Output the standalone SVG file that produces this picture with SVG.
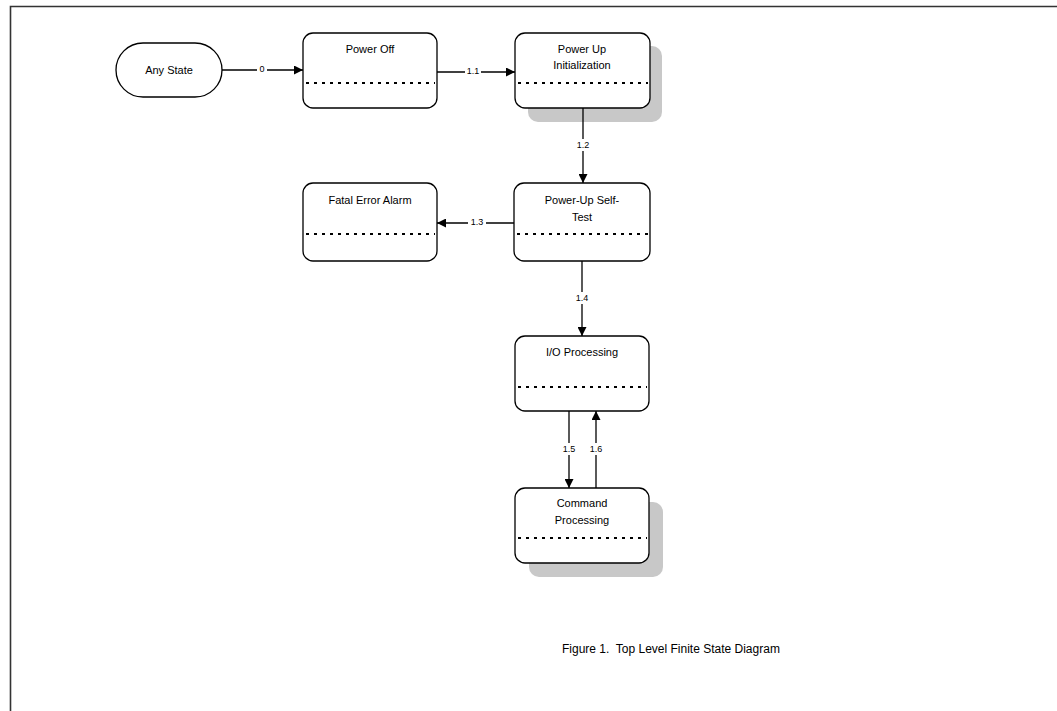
<svg xmlns="http://www.w3.org/2000/svg" width="1057" height="711" viewBox="0 0 1057 711">
<style>
.box{fill:#fff;stroke:#000;stroke-width:1.3}
.shadow{fill:#c8c8c8}
.dots{stroke:#000;stroke-width:2;stroke-dasharray:3 5}
.t{font-family:"Liberation Sans",Arial,sans-serif;font-size:11px;text-anchor:middle;fill:#000}
.lbl{font-family:"Liberation Sans",Arial,sans-serif;font-size:9px;text-anchor:middle;fill:#000}
.cap{font-family:"Liberation Sans",Arial,sans-serif;font-size:12px;fill:#000;white-space:pre}
.conn{stroke:#000;stroke-width:1.3;fill:none;marker-end:url(#arr)}
.bg{fill:#fff}
</style>
<defs>
<marker id="arr" viewBox="0 0 10 10" refX="10" refY="5" markerWidth="9" markerHeight="9" markerUnits="userSpaceOnUse" orient="auto">
<path d="M0,0 L10,5 L0,10 z" fill="#000"/>
</marker>
</defs>
<rect width="1057" height="711" fill="#fff"/>
<path d="M10.5,711 V6.5 H1057" fill="none" stroke="#333" stroke-width="1.6"/>

<g id="any-state">
<rect class="box" x="116" y="43" width="106" height="54" rx="27"/>
<text class="t" x="169" y="74">Any State</text>
</g>

<g id="power-off">
<rect class="box" x="303" y="33" width="134" height="75" rx="10"/>
<line class="dots" x1="306" y1="83" x2="435" y2="83"/>
<text class="t" x="370" y="53">Power Off</text>
</g>

<g id="power-up-init">
<rect class="shadow" x="528" y="46" width="134" height="76" rx="10"/>
<rect class="box" x="515" y="33" width="135" height="75" rx="10"/>
<line class="dots" x1="518" y1="83" x2="648" y2="83"/>
<text class="t" x="582" y="53">Power Up</text>
<text class="t" x="582" y="69">Initialization</text>
</g>

<g id="fatal-error">
<rect class="box" x="303" y="183" width="134" height="78" rx="10"/>
<line class="dots" x1="306" y1="234" x2="435" y2="234"/>
<text class="t" x="370" y="204">Fatal Error Alarm</text>
</g>

<g id="self-test">
<rect class="box" x="514" y="183" width="136" height="78" rx="10"/>
<line class="dots" x1="517" y1="234" x2="648" y2="234"/>
<text class="t" x="582" y="204">Power-Up Self-</text>
<text class="t" x="582" y="221">Test</text>
</g>

<g id="io-processing">
<rect class="box" x="515" y="336" width="134" height="75" rx="10"/>
<line class="dots" x1="518" y1="387" x2="647" y2="387"/>
<text class="t" x="582" y="356">I/O Processing</text>
</g>

<g id="command-processing">
<rect class="shadow" x="529" y="502" width="134" height="75" rx="10"/>
<rect class="box" x="515" y="488" width="134" height="75" rx="10"/>
<line class="dots" x1="518" y1="538" x2="647" y2="538"/>
<text class="t" x="582" y="507">Command</text>
<text class="t" x="582" y="524">Processing</text>
</g>

<g id="connectors">
<line class="conn" x1="222" y1="70" x2="303" y2="70"/>
<rect class="bg" x="257" y="64" width="10" height="10"/>
<text class="lbl" x="262" y="72">0</text>

<line class="conn" x1="437" y1="72" x2="515" y2="72"/>
<rect class="bg" x="465" y="66" width="16" height="10"/>
<text class="lbl" x="473" y="74">1.1</text>

<line class="conn" x1="583" y1="108" x2="583" y2="183"/>
<rect class="bg" x="574" y="139" width="18" height="12"/>
<text class="lbl" x="583" y="148">1.2</text>

<line class="conn" x1="514" y1="223" x2="437" y2="223"/>
<rect class="bg" x="468" y="217" width="18" height="10"/>
<text class="lbl" x="477" y="225">1.3</text>

<line class="conn" x1="582" y1="261" x2="582" y2="336"/>
<rect class="bg" x="573" y="292" width="18" height="12"/>
<text class="lbl" x="582" y="301">1.4</text>

<line class="conn" x1="569" y1="411" x2="569" y2="488"/>
<rect class="bg" x="561" y="443" width="16" height="12"/>
<text class="lbl" x="569" y="452">1.5</text>

<line class="conn" x1="596" y1="488" x2="596" y2="411"/>
<rect class="bg" x="588" y="443" width="16" height="12"/>
<text class="lbl" x="596" y="452">1.6</text>
</g>

<text class="cap" x="562" y="653" xml:space="preserve">Figure 1.  Top Level Finite State Diagram</text>
</svg>
